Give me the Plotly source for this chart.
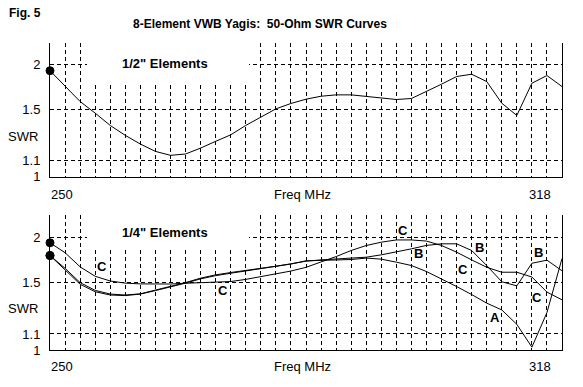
import plotly.graph_objects as go

# ---------------- data ----------------
freq = list(range(250, 320, 2))  # MHz, 250..318 step 2

swr_half = [1.915, 1.728, 1.572, 1.463, 1.357, 1.278, 1.213, 1.161, 1.134, 1.143,
            1.184, 1.233, 1.282, 1.357, 1.424, 1.502, 1.553, 1.595, 1.625, 1.639,
            1.639, 1.622, 1.602, 1.592, 1.602, 1.674, 1.754, 1.843, 1.871, 1.784,
            1.556, 1.442, 1.765, 1.855, 1.728]

swr_A = [1.779, 1.62, 1.485, 1.418, 1.39, 1.385, 1.398, 1.428, 1.46, 1.495,
         1.535, 1.566, 1.59, 1.612, 1.636, 1.658, 1.685, 1.72, 1.723, 1.727,
         1.734, 1.75, 1.738, 1.705, 1.669, 1.607, 1.536, 1.464, 1.394, 1.323,
         1.27, 1.165, 1.017, 1.25, 1.745]

swr_B = [1.779, 1.64, 1.50, 1.43, 1.398, 1.39, 1.40, 1.432, 1.466, 1.50,
         1.542, 1.574, 1.597, 1.617, 1.642, 1.662, 1.687, 1.716, 1.73, 1.738,
         1.75, 1.76, 1.787, 1.82, 1.858, 1.90, 1.92, 1.92, 1.838, 1.669,
         1.508, 1.47, 1.693, 1.727, 1.615]

swr_C = [1.933, 1.812, 1.655, 1.56, 1.515, 1.495, 1.488, 1.486, 1.487, 1.494,
         1.50, 1.504, 1.51, 1.53, 1.555, 1.58, 1.612, 1.65, 1.705, 1.767,
         1.838, 1.899, 1.941, 1.97, 1.97, 1.955, 1.899, 1.818, 1.73, 1.651,
         1.60, 1.60, 1.553, 1.415, 1.35]

swr_ticks = [1, 1.1, 1.5, 2]
swr_tick_text = ["1", "1.1", "1.5", "2"]

curve_labels = ["C", "C", "C", "C", "C", "B", "B", "B", "A"]
label_freq = [256.95, 273.0, 296.9, 304.9, 314.7, 298.9, 307.0, 314.85, 309.1]
label_swr = [1.659, 1.429, 2.099, 1.624, 1.372, 1.799, 1.878, 1.818, 1.216]


def rho(s):
    """SWR -> reflection coefficient (the chart's vertical scale)."""
    return (s - 1.0) / (s + 1.0)


FONT = "Liberation Sans, Arial, sans-serif"
W, H = 583, 387
ML, MR, MT, MB = 50, 21, 43, 37
PH = H - MT - MB


def py(Y):  # pixel y -> paper y
    return (H - MB - Y) / PH


def px(X):  # pixel x -> paper x
    return (X - ML) / (W - ML - MR)


fig = go.Figure()

first_dot = [8] + [0] * (len(freq) - 1)


def add_curve(vals, xa, ya):
    fig.add_trace(go.Scatter(
        x=freq, y=[rho(v) for v in vals], mode="lines+markers",
        line=dict(color="black", width=1),
        marker=dict(size=first_dot, color="black", opacity=1,
                    line=dict(width=1, color="black")),
        cliponaxis=False, showlegend=False, xaxis=xa, yaxis=ya,
        hoverinfo="skip"))


add_curve(swr_half, "x", "y")
add_curve(swr_C, "x2", "y2")
add_curve(swr_B, "x2", "y2")
add_curve(swr_A, "x2", "y2")

grid = dict(showgrid=True, gridcolor="black", gridwidth=1, griddash="4px,3px",
            showline=True, linecolor="black", linewidth=1, zeroline=False,
            ticks="")

xcommon = dict(range=[250, 318], tick0=250, dtick=2, showticklabels=False,
               domain=[0, 1], **grid)
ycommon = dict(tickvals=[rho(s) for s in swr_ticks], ticktext=swr_tick_text,
               tickfont=dict(family=FONT, size=13, color="black"),
               ticklabelstandoff=6, mirror=True, **grid)

top_dom = [py(176.5), 1.0]
bot_dom = [0.0, py(215)]

fig.update_layout(
    width=W, height=H,
    margin=dict(l=ML, r=MR, t=MT, b=MB, pad=0),
    paper_bgcolor="white", plot_bgcolor="white",
    font=dict(family=FONT, size=13, color="black"),
    hovermode=False,
    xaxis=dict(anchor="y", **xcommon),
    yaxis=dict(anchor="x", domain=top_dom, range=[0, 0.396], **ycommon),
    xaxis2=dict(anchor="y2", **xcommon),
    yaxis2=dict(anchor="x2", domain=bot_dom, range=[0, 0.4006], **ycommon),
)

shapes = [
    dict(type="rect", xref="paper", yref="paper", x0=px(87), x1=px(249),
         y0=py(85), y1=1.0, fillcolor="white", line=dict(width=0), layer="above"),
    dict(type="rect", xref="paper", yref="paper", x0=px(87), x1=px(249),
         y0=py(250), y1=py(215), fillcolor="white", line=dict(width=0), layer="above"),
]
fig.update_layout(shapes=shapes)

ann = []


def txt(text, x, y, size=13, bold=False, xanchor="center", xref="paper", yref="paper"):
    t = f"<b>{text}</b>" if bold else text
    ann.append(dict(text=t, x=x, y=y, xref=xref, yref=yref, xanchor=xanchor,
                    yanchor="middle", showarrow=False,
                    font=dict(family=FONT, size=size, color="black")))


txt("Fig. 5", px(7), py(13.5), size=12, bold=True, xanchor="left")
txt("8-Element VWB Yagis:\u00a0 50-Ohm SWR Curves", px(260), py(24), size=12, bold=True)
txt("1/2\" Elements", px(165), py(63), size=13, bold=True)
txt("1/4\" Elements", px(165), py(232.7), size=13, bold=True)
txt("SWR", px(40), py(136), xanchor="right")
txt("SWR", px(40), py(308.3), xanchor="right")
for yy in (194, 366):
    txt("250", px(49), py(yy), xanchor="left")
    txt("Freq MHz", px(302), py(yy))
    txt("318", px(553), py(yy), xanchor="right")

for lab, f, s in zip(curve_labels, label_freq, label_swr):
    txt(lab, f, rho(s), size=13, bold=True, xref="x2", yref="y2")

fig.update_layout(annotations=ann)

fig.write_html(
    "out.html",
    config={"displayModeBar": False, "staticPlot": True},
    post_script="document.body.style.margin='0';document.body.style.padding='0';"
                "document.body.style.overflow='hidden';",
)
